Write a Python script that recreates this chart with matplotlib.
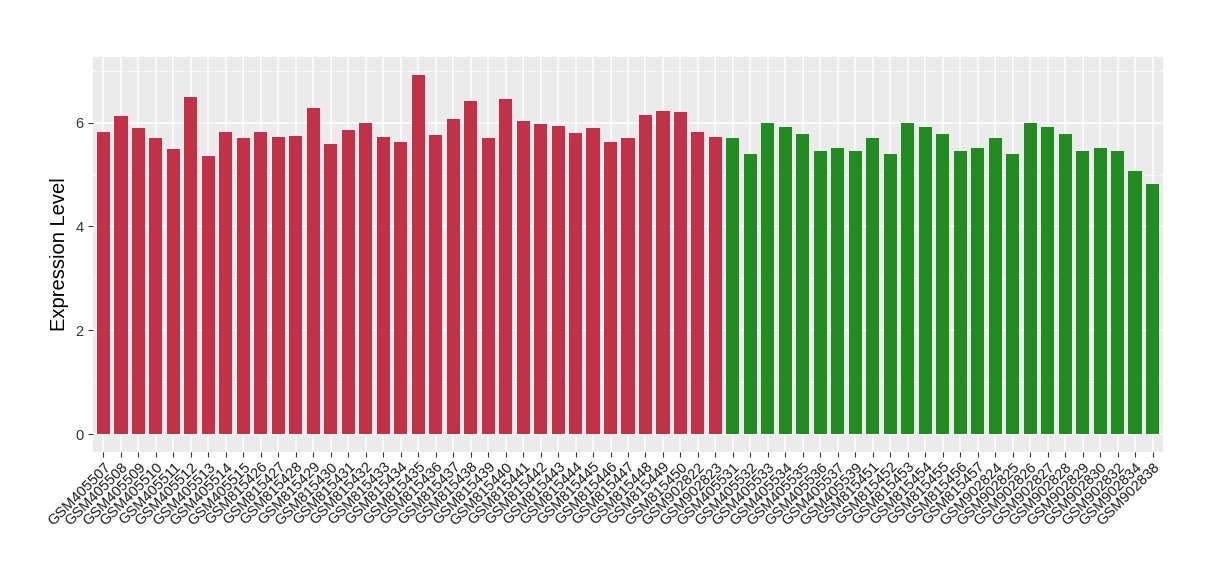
import matplotlib
matplotlib.use("Agg")
import matplotlib.pyplot as plt
from matplotlib.ticker import MultipleLocator

plt.rcParams['font.family'] = ['Liberation Sans', 'DejaVu Sans']

red_samples = ["GSM405507", "GSM405508", "GSM405509", "GSM405510", "GSM405511", "GSM405512",
               "GSM405513", "GSM405514", "GSM405515", "GSM815426", "GSM815427", "GSM815428",
               "GSM815429", "GSM815430", "GSM815431", "GSM815432", "GSM815433", "GSM815434",
               "GSM815435", "GSM815436", "GSM815437", "GSM815438", "GSM815439", "GSM815440",
               "GSM815441", "GSM815442", "GSM815443", "GSM815444", "GSM815445", "GSM815446",
               "GSM815447", "GSM815448", "GSM815449", "GSM815450", "GSM902822", "GSM902823"]
red_values = [5.83, 6.12, 5.89, 5.70, 5.50, 6.49, 5.35, 5.83, 5.70, 5.83, 5.73, 5.75,
              6.28, 5.58, 5.85, 5.99, 5.73, 5.62, 6.92, 5.77, 6.08, 6.41, 5.71, 6.45,
              6.04, 5.97, 5.93, 5.81, 5.89, 5.62, 5.71, 6.14, 6.22, 6.20, 5.83, 5.73]

green_samples = ["GSM405531", "GSM405532", "GSM405533", "GSM405534", "GSM405535", "GSM405536",
                 "GSM405537", "GSM405539", "GSM815451", "GSM815452", "GSM815453", "GSM815454",
                 "GSM815455", "GSM815456", "GSM815457", "GSM902824", "GSM902825", "GSM902826",
                 "GSM902827", "GSM902828", "GSM902829", "GSM902830", "GSM902832", "GSM902834",
                 "GSM902838"]
green_values = [5.71, 5.40, 5.99, 5.91, 5.79, 5.46, 5.52, 5.46, 5.71, 5.40, 5.99, 5.91,
                5.79, 5.46, 5.52, 5.71, 5.40, 5.99, 5.91, 5.79, 5.46, 5.52, 5.46, 5.06,
                4.81]

red_color = "#C13249"
green_color = "#228B22"

samples = red_samples + green_samples
values = red_values + green_values
colors = [red_color] * len(red_samples) + [green_color] * len(green_samples)

fig = plt.figure(figsize=(12.2, 5.8), dpi=100)
ax = fig.add_axes([93 / 1220, 1 - 452 / 580, (1163 - 93) / 1220, (452 - 57) / 580])
ax.set_facecolor("#EBEBEB")

x = list(range(len(samples)))
ax.bar(x, values, width=0.75, color=colors, zorder=3)

n = len(samples)
ax.set_xlim(-0.6, n - 1 + 0.6)
vmax = max(values)
ax.set_ylim(-0.05 * vmax, vmax * 1.05)

ax.yaxis.set_major_locator(MultipleLocator(2))
ax.yaxis.set_minor_locator(MultipleLocator(1))
ax.set_xticks(x)
ax.set_xticklabels(samples, rotation=45, ha="right", va="top", rotation_mode="anchor",
                   fontsize=10.5, color="#1A1A1A")
for lbl in ax.get_yticklabels():
    lbl.set_fontsize(10.5)
    lbl.set_color("#333333")

ax.grid(which="major", axis="both", color="white", linewidth=1.1, zorder=0)
ax.grid(which="minor", axis="y", color="white", linewidth=0.5, zorder=0)
ax.tick_params(axis="both", which="major", length=3.5, color="#333333", width=0.8)
ax.tick_params(axis="x", pad=2)
ax.tick_params(axis="y", which="minor", length=0)
for s in ax.spines.values():
    s.set_visible(False)

ax.set_ylabel("Expression Level", fontsize=14.5, color="black", labelpad=4)

fig.savefig("out.png", dpi=100, facecolor="white")
